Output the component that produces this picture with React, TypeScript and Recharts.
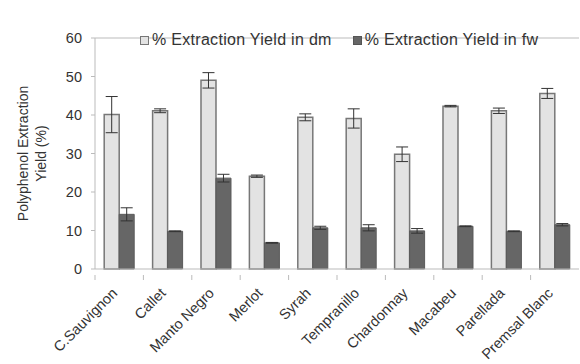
import React from 'react';
import { BarChart, Bar, XAxis, YAxis, ErrorBar, Legend, ReferenceLine } from 'recharts';

const varieties = ['C.Sauvignon', 'Callet', 'Manto Negro', 'Merlot', 'Syrah', 'Tempranillo', 'Chardonnay', 'Macabeu', 'Parellada', 'Premsal Blanc'];
const yieldDm = [40.1, 41.1, 49.0, 24.1, 39.4, 39.1, 29.8, 42.3, 41.1, 45.6];
const errDm = [4.7, 0.5, 2.0, 0.3, 0.9, 2.5, 1.9, 0.2, 0.7, 1.3];
const yieldFw = [14.2, 9.8, 23.6, 6.8, 10.7, 10.7, 9.9, 11.1, 9.8, 11.5];
const errFw = [1.7, 0.1, 1.0, 0.1, 0.4, 0.8, 0.6, 0.1, 0.1, 0.3];
const yTicks = [0, 10, 20, 30, 40, 50, 60];

const data = varieties.map((name, i) => ({
  name,
  dm: yieldDm[i],
  dmErr: errDm[i],
  fw: yieldFw[i],
  fwErr: errFw[i],
}));

const font = '"Liberation Sans", Arial, sans-serif';

// labels are rotated and the tick marks sit between categories, Excel style
function CategoryTick(props: any) {
  const { x, y, payload } = props;
  const half = payload && payload.offset ? payload.offset : 24;
  const tx = x - 1;
  const ty = y + 17;
  return (
    <g>
      <line x1={x - half} y1={y - 2} x2={x - half} y2={y + 3} stroke="#bbb" />
      <text
        x={tx}
        y={ty}
        textAnchor="end"
        fontSize={14.5}
        fontFamily={font}
        fill="#333"
        transform={`rotate(-45, ${tx}, ${ty})`}
      >
        {payload.value}
      </text>
    </g>
  );
}

function LegendBox() {
  const items = [
    { label: '% Extraction Yield in dm', fill: '#e3e3e3', stroke: '#777' },
    { label: '% Extraction Yield in fw', fill: '#666', stroke: '#555' },
  ];
  return (
    <div style={{ display: 'flex', gap: 21, fontFamily: font, fontSize: 16, letterSpacing: 0.3, color: '#333' }}>
      {items.map((it) => (
        <div key={it.label} style={{ display: 'flex', alignItems: 'center' }}>
          <span
            style={{
              display: 'inline-block',
              width: 7,
              height: 7,
              background: it.fill,
              border: `1px solid ${it.stroke}`,
              marginRight: 3,
            }}
          />
          {it.label}
        </div>
      ))}
    </div>
  );
}

function YTitle(props: any) {
  const { viewBox } = props;
  const cy = viewBox.y + viewBox.height / 2;
  return (
    <text
      transform={`rotate(-90, 30, ${cy})`}
      x={30}
      y={cy}
      textAnchor="middle"
      fontSize={14}
      fontFamily={font}
      fill="#333"
    >
      <tspan x={30} dy={-2}>Polyphenol Extraction</tspan>
      <tspan x={30} dy={18}>Yield (%)</tspan>
    </text>
  );
}

export default function App() {
  return (
    <div style={{ position: 'absolute', left: 0, top: 0, background: '#fff' }}>
      <BarChart
        width={580}
        height={364}
        data={data}
        margin={{ top: 20, right: 1, left: 0, bottom: 0 }}
        barCategoryGap="19%"
        barGap={0}
      >
        <XAxis
          dataKey="name"
          interval={0}
          height={95}
          stroke="#bbb"
          tickLine={false}
          tick={<CategoryTick />}
        />
        <YAxis
          width={95}
          domain={[0, 60]}
          ticks={yTicks}
          stroke="#bbb"
          tickSize={4}
          tickMargin={9}
          tick={{ fill: '#333', fontSize: 14.5, fontFamily: font }}
          label={<YTitle />}
        />
        <ReferenceLine y={60} stroke="#bbb" />
        <Legend
          verticalAlign="top"
          align="left"
          content={<LegendBox />}
          wrapperStyle={{ top: 31, left: 140, width: 'auto' }}
        />
        <Bar dataKey="dm" fill="#e3e3e3" stroke="#777" strokeWidth={1.5} isAnimationActive={false}>
          <ErrorBar dataKey="dmErr" width={6} stroke="#333" strokeWidth={1} />
        </Bar>
        <Bar dataKey="fw" fill="#666" stroke="#5a5a5a" isAnimationActive={false}>
          <ErrorBar dataKey="fwErr" width={6} stroke="#333" strokeWidth={1} />
        </Bar>
      </BarChart>
    </div>
  );
}
